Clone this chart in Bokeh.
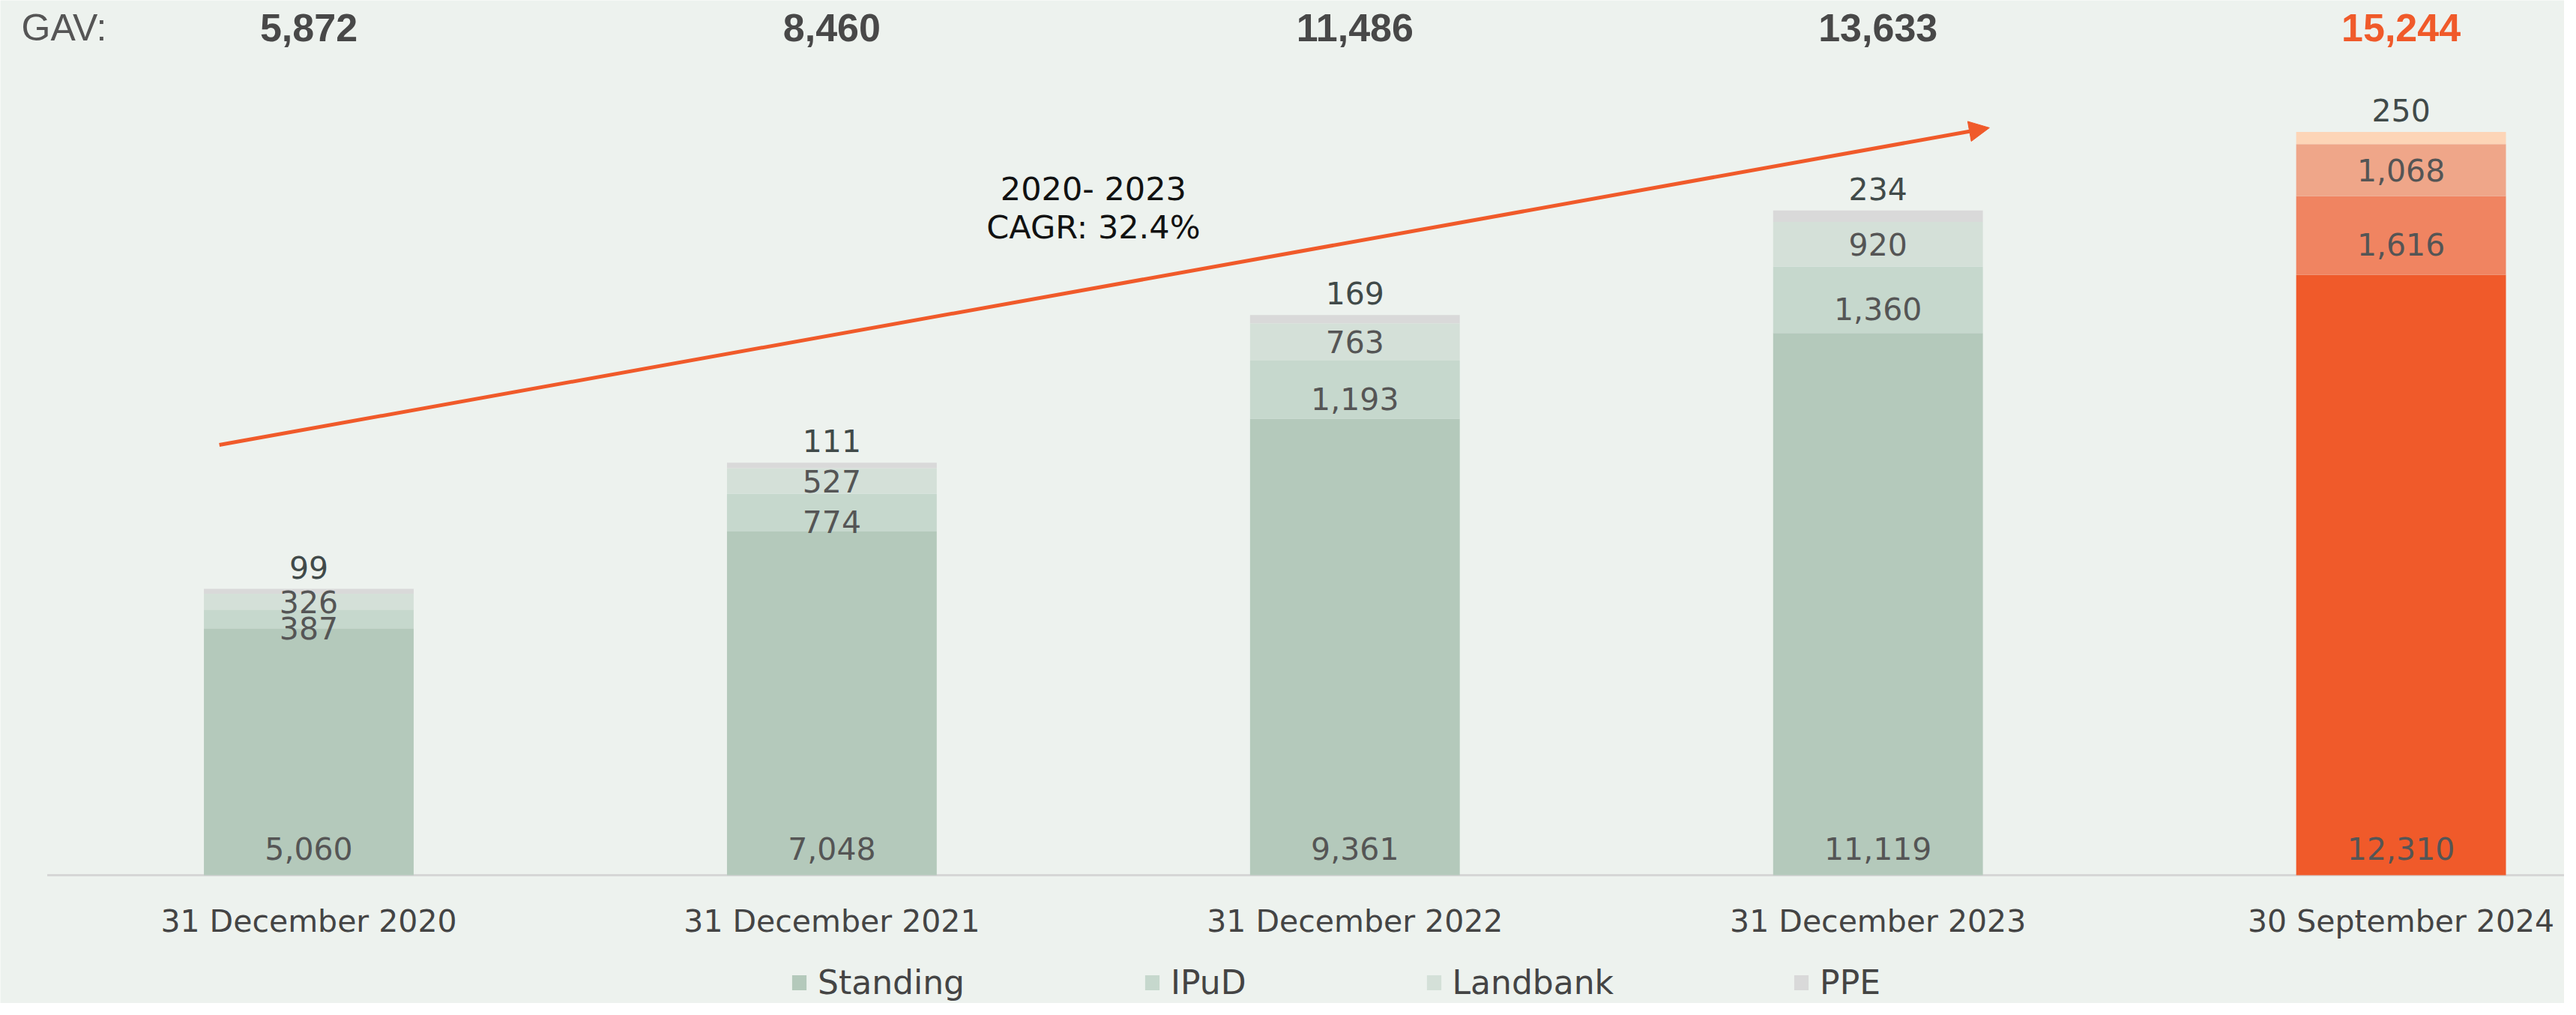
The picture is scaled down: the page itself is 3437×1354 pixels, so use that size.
from bokeh.plotting import figure
from bokeh.models import ColumnDataSource, Range1d, Legend, LegendItem, Arrow, NormalHead
from bokeh.core.properties import value
from bokeh.embed import file_html
from bokeh.resources import INLINE

# ---------------- data ----------------
categories = ["31 December 2020", "31 December 2021", "31 December 2022",
              "31 December 2023", "30 September 2024"]
standing = [5060, 7048, 9361, 11119, 12310]
ipud = [387, 774, 1193, 1360, 1616]
landbank = [326, 527, 763, 920, 1068]
ppe = [99, 111, 169, 234, 250]
gav = [5872, 8460, 11486, 13633, 15244]
series_names = ["Standing", "IPuD", "Landbank", "PPE"]
cagr_lines = ["2020- 2023", "CAGR: 32.4%"]
gav_title = "GAV:"

# ---------------- styles ----------------
BG = "#edf2ee"
GREENS = ["#b4c9bb", "#c6d8cd", "#d4e0d8", "#d9d9d9"]
ORANGES = ["#f05a2a", "#f08461", "#efa689", "#fdd5b7"]
ORANGE = "#f05a2a"
FONT = "DejaVu Sans"
VAL_COLOR = "#555555"

W, H = 3421, 1338
PX_PER_CAT = 697.9      # pixels between bar centres
X0 = 411.5              # first bar centre, px from left of figure
BASE = 1167             # baseline, px from top of figure
PX_PER_UNIT = 0.06505   # vertical scale

x_start = -X0 / PX_PER_CAT
x_end = (W - X0) / PX_PER_CAT
y_end = BASE / PX_PER_UNIT
y_start = -(H - BASE) / PX_PER_UNIT

p = figure(width=W, height=H, output_backend="svg", toolbar_location=None,
           x_range=Range1d(x_start, x_end), y_range=Range1d(y_start, y_end),
           x_axis_location=None, y_axis_location=None,
           min_border=0, background_fill_color=BG, border_fill_color=BG,
           outline_line_color=None)
p.grid.visible = False

n = len(categories)
idx = list(range(n))
highlight = [i == n - 1 for i in idx]

# baseline
p.segment(x0=[-0.5], y0=[0], x1=[x_end], y1=[0], line_color="#d6d6d6", line_width=3)

# stacked bars
series = [standing, ipud, landbank, ppe]
bottom = [0] * n
renderers = []
for s, vals in enumerate(series):
    top = [b + v for b, v in zip(bottom, vals)]
    colors = [ORANGES[s] if h else GREENS[s] for h in highlight]
    src = ColumnDataSource(dict(x=idx, bottom=bottom, top=top, color=colors))
    r = p.vbar(x="x", bottom="bottom", top="top", width=0.401, source=src,
               fill_color="color", line_color=None)
    renderers.append(r)
    bottom = top

def fmt(v):
    return f"{v:,}"

def add_text(xs, ys, texts, size="41px", color=VAL_COLOR, y_offset=0, x_offset=0,
             align="center", font=FONT, style="normal", baseline="middle"):
    src = ColumnDataSource(dict(x=xs, y=ys, t=texts))
    p.text(x="x", y="y", text="t", source=src, text_align=align, text_baseline=baseline,
           text_font=value(font), text_font_size=size, text_color=color,
           text_font_style=style, x_offset=x_offset, y_offset=y_offset)

# value labels
add_text(idx, [0] * n, [fmt(v) for v in standing], y_offset=-36)
ipud_mid = [s + v / 2 for s, v in zip(standing, ipud)]
add_text(idx, ipud_mid, [fmt(v) for v in ipud], y_offset=12)
land_mid = [s + i + v / 2 for s, i, v in zip(standing, ipud, landbank)]
add_text(idx, land_mid, [fmt(v) for v in landbank])
totals = [s + i + l + q for s, i, l, q in zip(standing, ipud, landbank, ppe)]
add_text(idx, totals, [fmt(v) for v in ppe], color="#414a49", y_offset=-29)

# category labels
add_text(idx, [0] * n, categories, color="#444444", y_offset=61)

# GAV row
gav_colors = [ORANGE if h else "#484848" for h in highlight]
src = ColumnDataSource(dict(x=idx, y=[y_end] * n, t=[fmt(v) for v in gav], c=gav_colors))
p.text(x="x", y="y", text="t", source=src, text_align="center", text_baseline="middle",
       text_font=value("Liberation Sans"), text_font_style="bold", text_font_size="52px",
       text_color="c", y_offset=36)
add_text([x_start], [y_end], [gav_title], size="50px", color="#555555", align="left",
         font="Liberation Sans", x_offset=28, y_offset=36)

# CAGR annotation
add_text([1.5], [y_end], [cagr_lines[0]], size="43px", color="#111111", y_offset=251)
add_text([1.5], [y_end], [cagr_lines[1]], size="43px", color="#111111", y_offset=302)

p.add_layout(Arrow(x_start=-0.171, y_start=8824, x_end=3.213, y_end=15327,
                   line_color=ORANGE, line_width=5,
                   end=NormalHead(size=27, fill_color=ORANGE, line_color=ORANGE)))

# legend
items = [LegendItem(label=name, renderers=[r], index=0) for name, r in zip(series_names, renderers)]
legend = Legend(items=items, orientation="horizontal", location=(1054, 2),
                spacing=238, glyph_width=24, glyph_height=25, label_standoff=13,
                padding=0, margin=0, background_fill_alpha=0, border_line_color=None,
                label_text_font=FONT, label_text_font_size="44px",
                label_text_color="#444444", label_height=25)
p.add_layout(legend)

open("out.html", "w").write(file_html(p, INLINE))
